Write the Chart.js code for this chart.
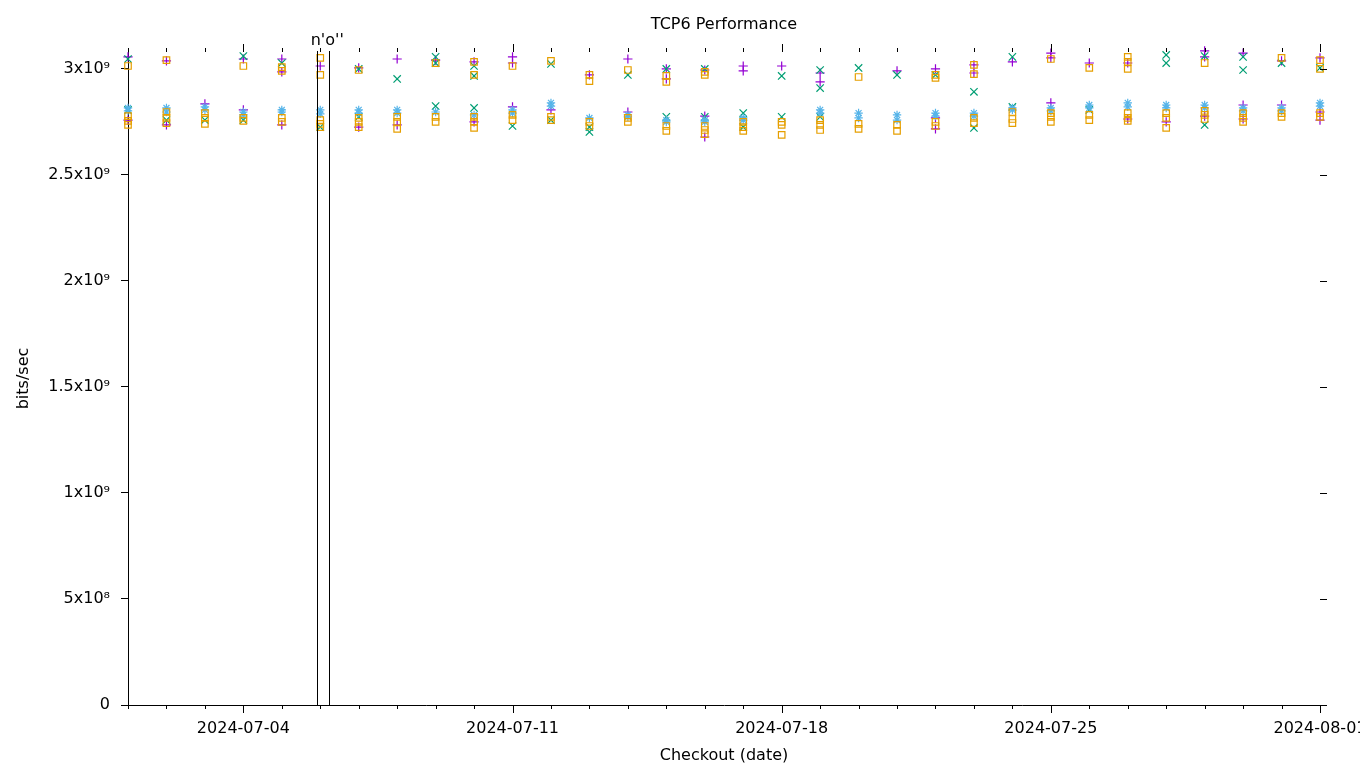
<!DOCTYPE html>
<html>
<head>
<meta charset="utf-8">
<script src="https://cdn.jsdelivr.net/npm/chart.js@4/dist/chart.umd.min.js"></script>
<style>
  html, body { margin: 0; padding: 0; background: #fff; }
  canvas { display: block; }
</style>
</head>
<body>
<canvas id="c" width="1360" height="768"></canvas>
<script>
// ---- data (values in units of 1e9 bits/sec) ----
const dates = ['2024-07-01','2024-07-02','2024-07-03','2024-07-04','2024-07-05','2024-07-06','2024-07-07','2024-07-08',
  '2024-07-09','2024-07-10','2024-07-11','2024-07-12','2024-07-13','2024-07-14','2024-07-15','2024-07-16',
  '2024-07-17','2024-07-18','2024-07-19','2024-07-20','2024-07-21','2024-07-22','2024-07-23','2024-07-24',
  '2024-07-25','2024-07-26','2024-07-27','2024-07-28','2024-07-29','2024-07-30','2024-07-31','2024-08-01'];
const xTickLabels = ['2024-07-04','2024-07-11','2024-07-18','2024-07-25','2024-08-01'];
const yTickValues = [0, 5e8, 1e9, 1.5e9, 2e9, 2.5e9, 3e9];
const yTickLabels = ['0', '5x10\u2078', '1x10\u2079', '1.5x10\u2079', '2x10\u2079', '2.5x10\u2079', '3x10\u2079'];
const eventDays = [4.907, 5.235];
const eventLabel = "n'o''";

const purpleHigh = [3.057,3.038,null,3.047,3.047,3.014,3.005,3.047,3.042,3.033,3.057,null,2.972,3.047,3.000,2.995,3.014,3.014,2.981,null,2.991,3.000,3.019,3.033,3.075,3.028,3.028,null,3.085,3.075,3.038,3.052];
const purpleHigh2 = [null,null,null,null,2.986,null,null,null,null,null,3.028,null,null,null,2.953,null,2.991,null,2.939,null,null,null,2.981,null,3.052,null,null,null,3.057,null,null,null];
const purpleLow = [2.759,2.736,2.835,2.807,2.736,null,2.726,2.736,null,2.750,2.821,2.807,null,2.797,null,2.778,null,null,null,null,null,2.769,null,null,2.840,null,2.764,2.750,2.778,2.830,2.830,2.797];
const purpleLow2 = [null,null,null,null,null,null,null,null,null,null,null,null,null,null,null,2.679,null,null,null,null,null,2.717,null,null,null,null,null,null,null,2.764,null,2.759];

const greenHigh = [3.047,null,null,3.061,3.028,null,3.000,2.953,3.057,3.014,null,3.024,null,2.972,3.000,3.000,null,2.967,2.995,3.005,2.972,2.972,2.892,3.057,null,null,null,3.066,3.061,3.057,3.028,3.005];
const greenHigh2 = [null,null,null,null,null,null,null,null,3.028,2.967,null,null,null,null,null,null,null,null,2.910,null,null,null,null,null,null,null,null,3.028,null,2.995,null,null];
const greenLow = [2.807,2.759,2.759,2.759,null,2.726,2.774,null,2.825,2.816,2.731,2.759,2.726,null,2.774,2.774,2.792,2.774,2.774,null,null,null,2.722,2.821,null,2.807,null,null,2.736,null,null,null];
const greenLow2 = [null,null,null,null,null,null,null,null,null,null,null,null,2.703,null,null,null,2.726,null,null,null,null,null,null,null,null,null,null,null,null,null,null,null];

const blueLow = [2.802,2.816,2.821,2.797,2.807,2.807,2.807,2.807,2.797,2.783,2.807,2.840,2.769,2.783,2.759,2.759,2.769,null,2.807,2.792,2.783,2.792,2.792,2.807,2.816,2.830,2.840,2.830,2.830,2.816,2.816,2.840];
const blueLow2 = [2.816,2.797,2.807,2.783,2.797,2.788,2.792,2.792,null,null,2.792,2.825,null,2.774,2.750,2.750,2.759,null,2.792,2.769,2.759,2.778,2.778,2.816,2.802,2.816,2.821,2.816,2.816,2.802,2.802,2.825];

const orangeHigh = [3.014,3.042,null,3.014,3.009,3.052,2.995,null,3.028,3.033,3.014,3.038,2.972,2.995,2.967,2.986,null,null,null,2.962,null,2.972,3.019,null,3.047,3.005,3.057,null,3.028,null,3.052,3.042];
const orangeHigh2 = [null,null,null,null,2.991,2.972,null,null,null,2.972,null,null,2.943,null,2.939,2.972,null,null,null,null,null,2.958,2.976,null,null,null,3.033,null,null,null,null,3.000];
const orangeHigh3 = [null,null,null,null,null,null,null,null,null,null,null,null,null,null,null,null,null,null,null,null,null,null,null,null,null,null,3.000,null,null,null,null,null];
const orangeLow1 = [2.778,2.797,2.792,2.769,2.769,2.759,2.769,2.774,2.774,2.774,2.783,2.774,2.750,2.769,2.731,2.731,2.750,2.750,2.759,2.741,2.736,2.750,2.769,2.797,2.792,2.783,2.792,2.792,2.802,2.792,2.792,2.792];
const orangeLow2 = [2.755,2.769,2.769,2.755,2.750,2.741,2.750,2.750,2.750,2.750,2.759,2.759,2.731,2.750,2.708,2.712,2.726,2.736,2.736,2.717,2.708,2.731,2.745,2.764,2.774,2.759,2.769,2.769,2.783,2.769,2.774,2.774];
const orangeLow3 = [2.736,2.745,2.741,null,null,2.726,2.726,2.717,null,2.722,null,null,null,null,null,2.693,2.708,2.689,2.712,null,null,null,null,2.745,2.750,null,2.755,2.722,2.764,2.750,null,null];

// ---- build points ----
function pts(...arrays) {
  const out = [];
  arrays.forEach(arr => arr.forEach((v, i) => { if (v !== null) out.push({ x: i, y: v * 1e9 }); }));
  return out;
}

Chart.defaults.font.family = '"DejaVu Sans", sans-serif';
Chart.defaults.font.size = 16;
Chart.defaults.color = '#000';

const FONT = '16px "DejaVu Sans", sans-serif';

const extrasPlugin = {
  id: 'extras',
  afterDraw(chart) {
    const { ctx, chartArea: a, scales: { x, y } } = chart;
    ctx.save();
    ctx.strokeStyle = '#000';
    ctx.lineWidth = 1;
    ctx.beginPath();
    // x ticks (bottom outward + top mirror outward)
    x.ticks.forEach(t => {
      const px = Math.round(x.getPixelForValue(t.value)) + 0.5;
      const major = xTickLabels.includes(dates[t.value]);
      const len = major ? 8 : 4;
      ctx.moveTo(px, a.bottom); ctx.lineTo(px, a.bottom + len);
      ctx.moveTo(px, a.top); ctx.lineTo(px, a.top - len);
    });
    // right mirror ticks
    y.ticks.forEach(t => {
      const py = Math.round(y.getPixelForValue(t.value)) + 0.5;
      ctx.moveTo(a.right, py); ctx.lineTo(a.right + 7, py);
    });
    // event lines
    eventDays.forEach(d => {
      const px = Math.round(x.getPixelForValue(d)) + 0.5;
      ctx.moveTo(px, a.top - 1); ctx.lineTo(px, a.bottom);
    });
    ctx.stroke();
    ctx.fillStyle = '#000';
    ctx.font = FONT;
    ctx.textAlign = 'left';
    ctx.textBaseline = 'alphabetic';
    ctx.fillText(eventLabel, x.getPixelForValue(eventDays[0]) - 6, a.top - 7);
    ctx.restore();
  }
};

const common = { showLine: false, borderWidth: 1.2, backgroundColor: 'transparent', clip: false, pointHoverRadius: 0 };

new Chart(document.getElementById('c'), {
  type: 'scatter',
  data: {
    datasets: [
      Object.assign({ label: 'purple', data: pts(purpleHigh, purpleHigh2, purpleLow, purpleLow2), borderColor: '#9400d3',
        pointStyle: 'cross', pointRadius: 4.6, order: 4 }, common),
      Object.assign({ label: 'green', data: pts(greenHigh, greenHigh2, greenLow, greenLow2), borderColor: '#009e73',
        pointStyle: 'crossRot', pointRadius: 5.2, order: 3 }, common),
      Object.assign({ label: 'blue', data: pts(blueLow, blueLow2), borderColor: '#56b4e9',
        pointStyle: 'star', pointRadius: 4.2, order: 2 }, common),
      Object.assign({ label: 'orange', data: pts(orangeHigh, orangeHigh2, orangeHigh3, orangeLow1, orangeLow2, orangeLow3), borderColor: '#e69f00',
        pointStyle: 'rect', pointRadius: 4.6, order: 1 }, common)
    ]
  },
  options: {
    responsive: false,
    animation: false,
    devicePixelRatio: 1,
    layout: { padding: { left: 0, right: 40, top: 0, bottom: 0 } },
    plugins: {
      legend: { display: false },
      tooltip: { enabled: false },
      title: {
        display: true, text: 'TCP6 Performance', fullSize: false, color: '#000',
        font: { size: 16, weight: 'normal' }, padding: { top: 15.4, bottom: 17.4 }
      }
    },
    scales: {
      x: {
        type: 'linear', min: 0, max: dates.length - 1,
        afterBuildTicks: s => { s.ticks = dates.map((d, i) => ({ value: i })); },
        afterFit: s => { s.height = 63; s.paddingLeft = 0; s.paddingRight = 0; },
        ticks: {
          autoSkip: false, maxRotation: 0, minRotation: 0, padding: 6, color: '#000',
          callback: v => (xTickLabels.includes(dates[v]) ? dates[v] : '')
        },
        grid: { display: true, drawOnChartArea: false, drawTicks: true, tickLength: 8, color: 'rgba(0,0,0,0)' },
        border: { display: true, color: '#000', width: 1 },
        title: { display: true, text: 'Checkout (date)', color: '#000', font: { size: 16 }, padding: { top: 0, bottom: 3 } }
      },
      y: {
        type: 'linear', min: 0, max: 3.08e9,
        afterBuildTicks: s => { s.ticks = yTickValues.map(v => ({ value: v })); },
        afterFit: s => { s.width = 128; s.paddingTop = 0; s.paddingBottom = 0; },
        ticks: {
          padding: 11, color: '#000',
          callback: v => yTickLabels[yTickValues.indexOf(v)]
        },
        grid: { display: true, drawOnChartArea: false, drawTicks: true, tickLength: 7, color: '#000', tickColor: '#000' },
        border: { display: true, color: '#000', width: 1 },
        title: { display: true, text: 'bits/sec', color: '#000', font: { size: 16 }, padding: { top: 14.4, bottom: 0 } }
      }
    }
  },
  plugins: [extrasPlugin]
});
</script>
</body>
</html>
